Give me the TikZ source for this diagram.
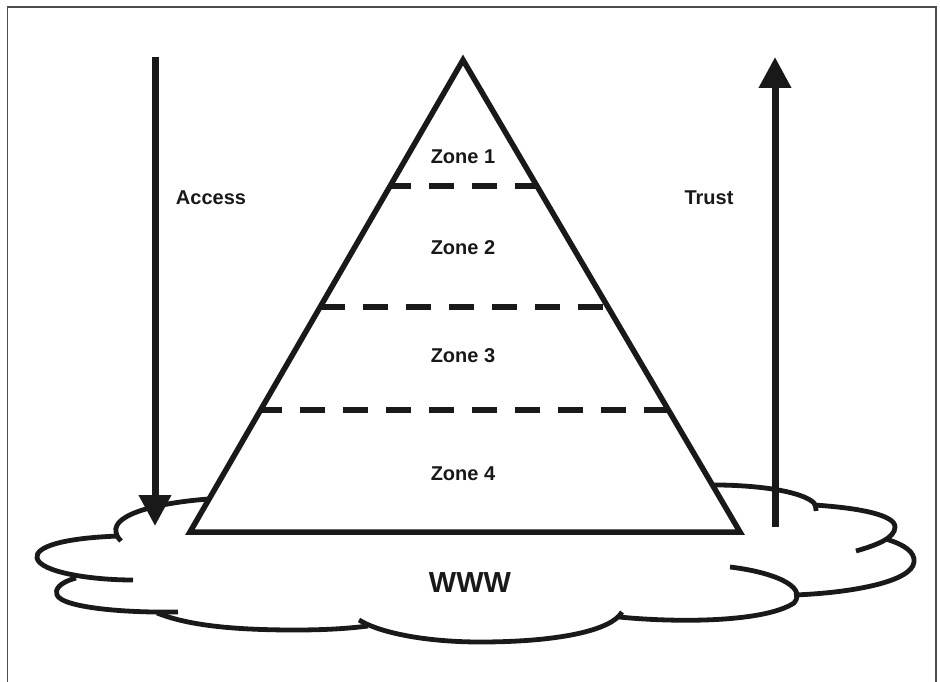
\documentclass[tikz,border=0pt]{standalone}
\usepackage{fontspec}
\setmainfont{Liberation Sans}
\usetikzlibrary{arrows.meta}

\tikzset{
  frame/.style={draw=black!70, line width=1.5pt},
  cloudline/.style={draw=black!90, line width=4.8pt, line cap=butt},
  pyramid/.style={draw=black!90, line width=5.5pt, line join=miter},
  zoneline/.style={draw=black!90, line width=6.5pt, dash pattern=on 25pt off 18pt},
  bigarrow/.style={draw=black!90, line width=7pt, -{Triangle[length=31pt,width=31pt]}},
  label/.style={font=\fontsize{20}{24}\selectfont\bfseries, text=black!90, inner sep=0pt},
}

\begin{document}
\begin{tikzpicture}[x=1pt, y=-1pt]
  \useasboundingbox (0,0) rectangle (940,682);

  % frame, open at the bottom
  \draw[frame] (7.5,682) -- (7.5,7) -- (936,7) -- (936,682);

  % the cloud, drawn as separate lobes
  \draw[cloudline] (225,498) .. controls (160,501) and (112,514) .. (116,532)
                   .. controls (117,537) and (119,539) .. (121,541);
  \draw[cloudline] (119,536) .. controls (62,538) and (35,547) .. (37,558)
                   .. controls (40,572) and (90,580) .. (133,580);
  \draw[cloudline] (76,578) .. controls (58,583) and (55,590) .. (57,595)
                   .. controls (62,607) and (120,613) .. (178,612);
  \draw[cloudline] (157,613) .. controls (185,624) and (225,630) .. (295,630)
                   .. controls (330,630) and (352,628) .. (368,626);
  \draw[cloudline] (359,620) .. controls (382,634) and (430,642) .. (480,642)
                   .. controls (560,642) and (612,630) .. (622,612);
  \draw[cloudline] (619,617) .. controls (680,623) and (765,622) .. (794,603)
                   .. controls (808,586) and (772,572) .. (730,567);
  \draw[cloudline] (794,595) .. controls (850,593) and (912,582) .. (914,562)
                   .. controls (915,552) and (905,545) .. (886,539);
  \draw[cloudline] (814,505) .. controls (860,508) and (895,515) .. (895,527)
                   .. controls (895,538) and (877,545) .. (856,551);
  \draw[cloudline] (700,485) .. controls (760,484) and (803,492) .. (814,503)
                   .. controls (816,506) and (816,508) .. (816,511);

  % the pyramid: white body over the cloud, separators, then outline
  \coordinate (apex) at (463,60);
  \coordinate (baseL) at (190,532);
  \coordinate (baseR) at (740,532);
  \fill[white] (apex) -- (baseL) -- (baseR) -- cycle;

  \draw[zoneline, dash phase=4pt] (390,186) -- (537,186);
  \draw[zoneline] (320,307) -- (608,307);
  \draw[zoneline, dash phase=4pt] (261,410) -- (668,410);

  \draw[pyramid] (apex) -- (baseL) -- (baseR) -- cycle;

  % zone labels
  \node[label] (z1) at (463,157) {Zone 1};
  \node[label] (z2) at (463,248) {Zone 2};
  \node[label] (z3) at (463,356) {Zone 3};
  \node[label] (z4) at (463,474) {Zone 4};
  \node[label, font=\fontsize{29}{34}\selectfont\bfseries] (www) at (470,583) {WWW};

  % access and trust arrows
  \coordinate (accTop) at (155,57);
  \coordinate (accEnd) at (155,526);
  \draw[bigarrow] (accTop) -- (accEnd);
  \coordinate (trBot) at (775,527);
  \coordinate (trTop) at (775,57);
  \draw[bigarrow] (trBot) -- (trTop);

  \node[label] (access) at (211,198) {Access};
  \node[label] (trust) at (709,198) {Trust};
\end{tikzpicture}
\end{document}
